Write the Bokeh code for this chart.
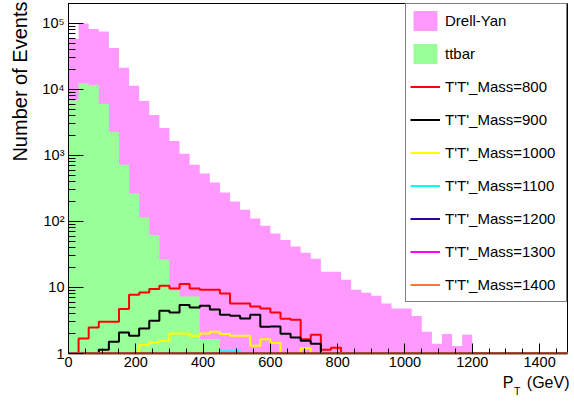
import numpy as np
from bokeh.plotting import figure
from bokeh.models import FixedTicker, Legend, LegendItem, Title, Range1d
from bokeh.embed import file_html
from bokeh.resources import INLINE

# 50 bins of 30 GeV from 0 to 1500 GeV
bin_edges = [0, 30, 60, 90, 120, 150, 180, 210, 240, 270, 300, 330, 360, 390, 420, 450,
             480, 510, 540, 570, 600, 630, 660, 690, 720, 750, 780, 810, 840, 870, 900,
             930, 960, 990, 1020, 1050, 1080, 1110, 1140, 1170, 1200, 1230, 1260, 1290,
             1320, 1350, 1380, 1410, 1440, 1470, 1500]

drell_yan = [58000, 100000, 82000, 75000, 42400, 21300, 11400, 6700, 4100, 2600,
             1650, 1060, 723, 534, 390, 275, 201, 150, 111, 86,
             65.8, 52.3, 41.8, 33.6, 27.2, 17.3, 17.3, 13.1, 9.2, 8.3,
             7.5, 5.7, 4.8, 4.8, 3.7, 2.13, 1.4, 1.97, 1.3, 1.92,
             0, 0, 0, 0, 0, 0, 0, 0, 0, 0]

ttbar = [6800, 12500, 11700, 6070, 2290, 723, 266, 115, 62, 26.6,
         9.1, 7.3, 7.3, 1.65, 1.65, 0, 0, 0, 0, 0,
         0, 0, 0, 0, 0, 0, 0, 0, 0, 0,
         0, 0, 0, 0, 0, 0, 0, 0, 0, 0,
         0, 0, 0, 0, 0, 0, 0, 0, 0, 0]

mass_800 = [0, 1.69, 2.48, 3.02, 3.02, 4.7, 7.75, 8.4, 9.46, 10.6,
            9.66, 11.3, 9.66, 9.2, 9.2, 8.1, 5.7, 5.7, 5.15, 4.8,
            4.18, 3.35, 3.24, 1.65, 1.92, 1.14, 1.22, 0, 0, 0,
            0, 0, 0, 0, 0, 0, 0, 0, 0, 0,
            0, 0, 0, 0, 0, 0, 0, 0, 0, 0]

mass_900 = [0, 0, 0, 1.14, 1.5, 2.08, 1.85, 2.39, 3.13, 4.43,
            4.18, 5.41, 4.98, 5.28, 4.65, 3.85, 3.72, 3.39, 3.86, 2.54,
            2.57, 1.99, 1.75, 1.56, 1.41, 0, 0, 0, 0, 0,
            0, 0, 0, 0, 0, 0, 0, 0, 0, 0,
            0, 0, 0, 0, 0, 0, 0, 0, 0, 0]

mass_1000 = [0, 0, 0, 0, 0, 0, 0, 1.34, 1.47, 1.56,
             2.01, 2.01, 1.85, 2.0, 2.13, 1.97, 1.85, 1.85, 1.31, 1.65,
             1.44, 0, 0, 1.2, 0, 0, 0, 0, 0, 0,
             0, 0, 0, 0, 0, 0, 0, 0, 0, 0,
             0, 0, 0, 0, 0, 0, 0, 0, 0, 0]

mass_1100 = [0, 0, 0, 0, 0, 0, 0, 0, 0, 0,
             0, 0, 0, 0, 0, 1.08, 1.08, 0, 0, 0,
             0, 0, 0, 0, 0, 0, 0, 0, 0, 0,
             0, 0, 0, 0, 0, 0, 0, 0, 0, 0,
             0, 0, 0, 0, 0, 0, 0, 0, 0, 0]

mass_1200 = [0] * 50
mass_1300 = [0] * 50
mass_1400 = [0] * 50

signal_labels = ["T'T'_Mass=800", "T'T'_Mass=900", "T'T'_Mass=1000", "T'T'_Mass=1100",
                 "T'T'_Mass=1200", "T'T'_Mass=1300", "T'T'_Mass=1400"]
signal_colors = ["#ff0000", "#000000", "#ffff00", "#00ffff", "#330099", "#ff00ff", "#ff7733"]
signals = [mass_800, mass_900, mass_1000, mass_1100, mass_1200, mass_1300, mass_1400]

x_ticks = [0, 200, 400, 600, 800, 1000, 1200, 1400]
x_minor = [v for v in range(0, 1500, 50)]
y_ticks = [1, 10, 100, 1000, 10000, 100000]
y_tick_labels = {1: "1", 10: "10", 100: "10²", 1000: "10³", 10000: "10⁴", 100000: "10⁵"}
y_minor = [m * d for d in [1, 10, 100, 1000, 10000, 100000] for m in range(2, 10)]

FONT = "Liberation Sans"

p = figure(width=574, height=404, output_backend="svg", toolbar_location=None,
           y_axis_type="log", x_range=Range1d(0, 1483), y_range=Range1d(1, 2e5),
           min_border_left=68, min_border_right=7, min_border_top=3, min_border_bottom=51)
p.background_fill_color = "white"
p.border_fill_color = "white"
p.outline_line_color = "black"
p.outline_line_width = 1
p.xgrid.visible = False
p.ygrid.visible = False

edges = np.array(bin_edges, dtype=float)

def step_vals(vals):
    v = np.maximum(np.array(vals, dtype=float), 1.0)
    return np.append(v, v[-1])

r_dy = p.varea_step(x=edges, y1=np.ones(len(edges)), y2=step_vals(drell_yan),
                    step_mode="after", fill_color="#ff99ff")
r_tt = p.varea_step(x=edges, y1=np.ones(len(edges)), y2=step_vals(ttbar),
                    step_mode="after", fill_color="#99ff99")

sig_renderers = []
for vals, col in zip(signals, signal_colors):
    r = p.step(x=edges, y=step_vals(vals), mode="after", line_color=col, line_width=2)
    sig_renderers.append(r)

# axes
xa = p.xaxis[0]
xa.ticker = FixedTicker(ticks=x_ticks, minor_ticks=x_minor)
xa.major_tick_in = 10
xa.major_tick_out = 0
xa.minor_tick_in = 5
xa.minor_tick_out = 0
xa.major_label_standoff = 3
xa.major_label_text_font = FONT
xa.major_label_text_font_size = "14.5px"
xa.major_label_text_color = "black"
xa.axis_line_color = "#7a3a10"
xa.axis_line_width = 2
xa.major_tick_line_color = "black"
xa.minor_tick_line_color = "black"

ya = p.yaxis[0]
ya.ticker = FixedTicker(ticks=y_ticks, minor_ticks=y_minor)
ya.major_label_overrides = y_tick_labels
ya.major_tick_in = 15
ya.major_tick_out = 0
ya.minor_tick_in = 7
ya.minor_tick_out = 0
ya.major_label_standoff = 4
ya.major_label_text_font = FONT
ya.major_label_text_font_size = "14.5px"
ya.major_label_text_color = "black"
ya.axis_line_color = "black"

# axis titles (as side-panel titles)
NBSP = "\u00a0"
p.add_layout(Title(text="Number of Events", align="right", vertical_align="top",
                   standoff=14, offset=-2, text_font=FONT, text_font_size="20px",
                   text_font_style="normal", text_color="black"), "left")
p.add_layout(Title(text="P" + NBSP * 3 + "(GeV)", align="right", vertical_align="top",
                   standoff=8, offset=-2, text_font=FONT, text_font_size="16px",
                   text_font_style="normal", text_color="black"), "below")
p.add_layout(Title(text="T", align="right", vertical_align="top",
                   standoff=-23, offset=47, text_font=FONT, text_font_size="10.5px",
                   text_font_style="normal", text_color="black"), "below")

items = [LegendItem(label="Drell-Yan", renderers=[r_dy]),
         LegendItem(label="ttbar", renderers=[r_tt])]
for lab, r in zip(signal_labels, sig_renderers):
    items.append(LegendItem(label=lab, renderers=[r]))

legend = Legend(items=items, location="top_right", margin=0, padding=4, spacing=8,
                glyph_width=30, glyph_height=25, label_standoff=5, label_width=117,
                label_height=25, label_text_font=FONT, label_text_font_size="15px",
                label_text_color="black", label_text_baseline="middle",
                border_line_color="black", border_line_width=1,
                background_fill_color="white", background_fill_alpha=1.0)
p.add_layout(legend)

open("out.html", "w").write(file_html(p, INLINE))
